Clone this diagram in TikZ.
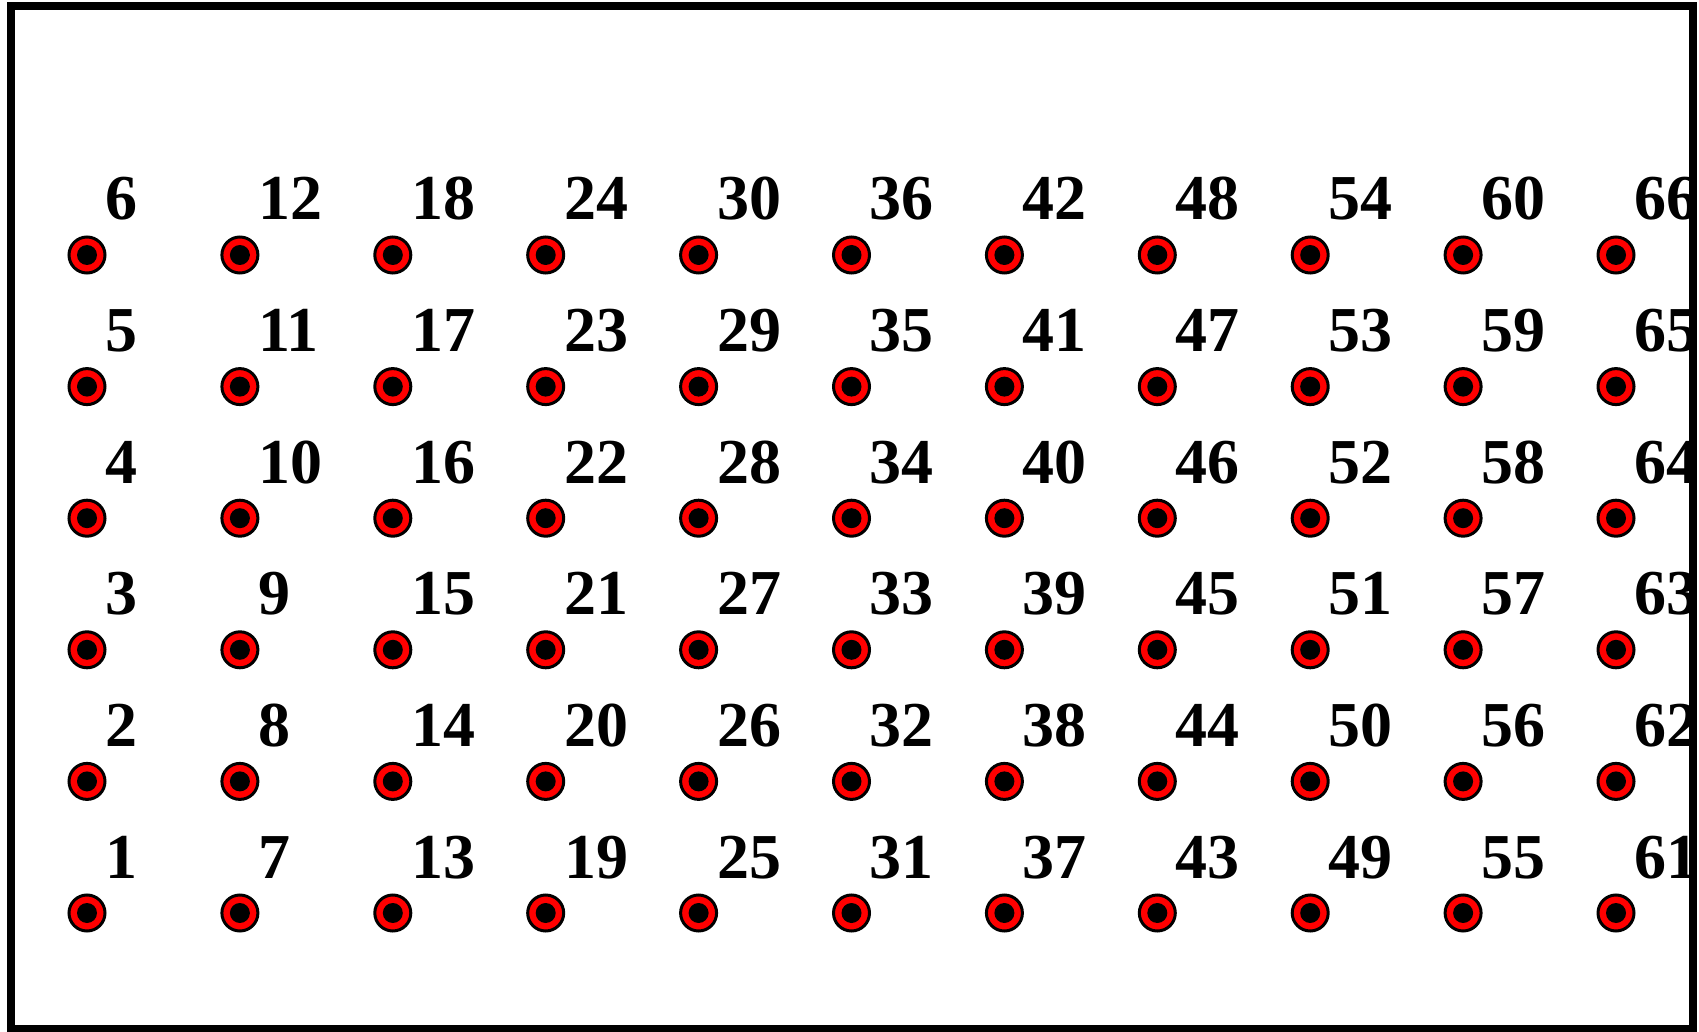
\documentclass[tikz,border=0pt]{standalone}
\usepackage{fontspec}
\setmainfont{Liberation Serif}

\begin{document}
\begin{tikzpicture}[x=0.5pt,y=-0.5pt,
 pin/.style={circle,draw=black,line width=1.5pt,fill=red,minimum size=18pt,inner sep=0pt,
   path picture={\fill[black] (path picture bounding box.center) circle (5pt);}},
 num/.style={font=\fontsize{32}{32}\selectfont\bfseries,inner sep=0pt,anchor=base west}]
\useasboundingbox (0,0) rectangle (1699,1032);
\foreach \c in {1,...,11}{
  \foreach \r in {1,...,6}{
    \pgfmathtruncatemacro{\k}{6*(\c-1)+\r}
    \node[pin] (p\k) at ({87+152.9*(\c-1)},{913-131.6*(\r-1)}) {};
    \node[num] (n\k) at ([shift={(18,-35)}]p\k.center) {\k};
  }
}
\draw[line width=4pt] (11,6) rectangle (1693,1029);
\end{tikzpicture}
\end{document}
